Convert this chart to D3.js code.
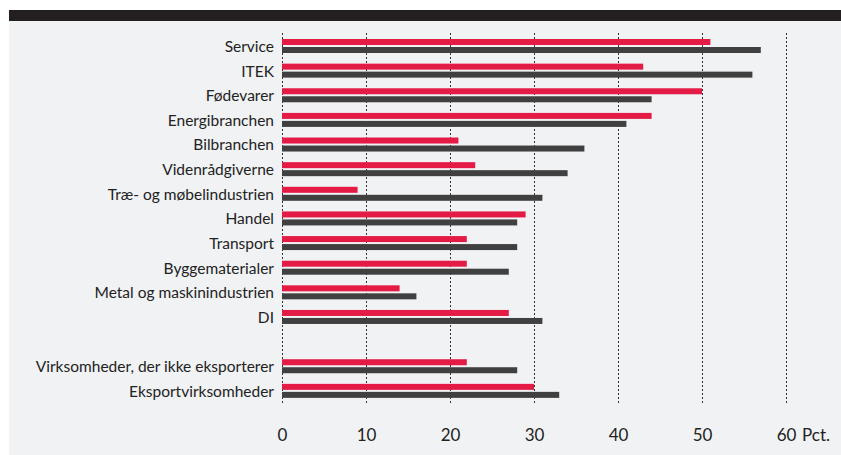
<!DOCTYPE html>
<html><head><meta charset="utf-8">
<script src="https://cdn.jsdelivr.net/npm/d3@7"></script>
<style>body{margin:0;background:#fff;}svg{display:block;}</style>
</head><body>
<svg id="c" width="841" height="455"></svg>
<script>
const categories = ["Service","ITEK","Fødevarer","Energibranchen","Bilbranchen","Videnrådgiverne","Træ- og møbelindustrien","Handel","Transport","Byggematerialer","Metal og maskinindustrien","DI","","Virksomheder, der ikke eksporterer","Eksportvirksomheder"];
const seriesRed  = [51,43,50,44,21,23,9,29,22,22,14,27,null,22,30];
const seriesDark = [57,56,44,41,36,34,31,28,28,27,16,31,null,28,33];
const tickValues = [0,10,20,30,40,50,60];
const unitLabel = "Pct.";

const svg = d3.select("#c");
const font = "Lato, 'Open Sans', sans-serif";
svg.append("rect").attr("x",9).attr("y",21).attr("width",832).attr("height",434).attr("fill","#f1f2f4");
svg.append("rect").attr("x",9).attr("y",10).attr("width",832).attr("height",11).attr("fill","#231f20");

const x = d3.scaleLinear().domain([0,60]).range([282,786]);
const y = d3.scaleBand().domain(d3.range(categories.length)).range([33.5,403]).paddingInner(0).paddingOuter(0);

// grid
svg.append("g").selectAll("line").data(tickValues).join("line")
  .attr("x1",d=>x(d)+0.5).attr("x2",d=>x(d)+0.5).attr("y1",33).attr("y2",403)
  .attr("stroke","#333").attr("stroke-width",1).attr("stroke-dasharray","2,2");

const bh = 6;
const rows = categories.map((c,i)=>({c,i,r:seriesRed[i],d:seriesDark[i]})).filter(d=>d.c!=="");
const g = svg.append("g");
g.selectAll("rect.r").data(rows).join("rect").attr("class","r")
  .attr("x",x(0)).attr("y",d=>y(d.i)+5.5).attr("width",d=>x(d.r)-x(0)).attr("height",bh).attr("fill","#e31b45");
g.selectAll("rect.d").data(rows).join("rect").attr("class","d")
  .attr("x",x(0)).attr("y",d=>y(d.i)+13.5).attr("width",d=>x(d.d)-x(0)).attr("height",bh).attr("fill","#404040");

g.selectAll("text").data(rows).join("text")
  .attr("x",274).attr("y",d=>y(d.i)+13).attr("dy","0.35em").attr("text-anchor","end")
  .attr("font-family",font).attr("font-size",15.5).attr("fill","#222").text(d=>d.c);

// x axis
const ax = d3.axisBottom(x).tickValues(tickValues).tickSize(0).tickPadding(0).tickFormat(d3.format("d"));
const axg = svg.append("g").attr("transform","translate(0,428)").call(ax);
axg.select(".domain").remove();
axg.selectAll("text").attr("font-family",font).attr("font-size",17).attr("fill","#222").attr("dy","0.35em").attr("y",7);
svg.append("text").attr("x",802).attr("y",435).attr("dy","0.35em").attr("font-family",font).attr("font-size",17).attr("fill","#222").text(unitLabel);
</script>
</body></html>
